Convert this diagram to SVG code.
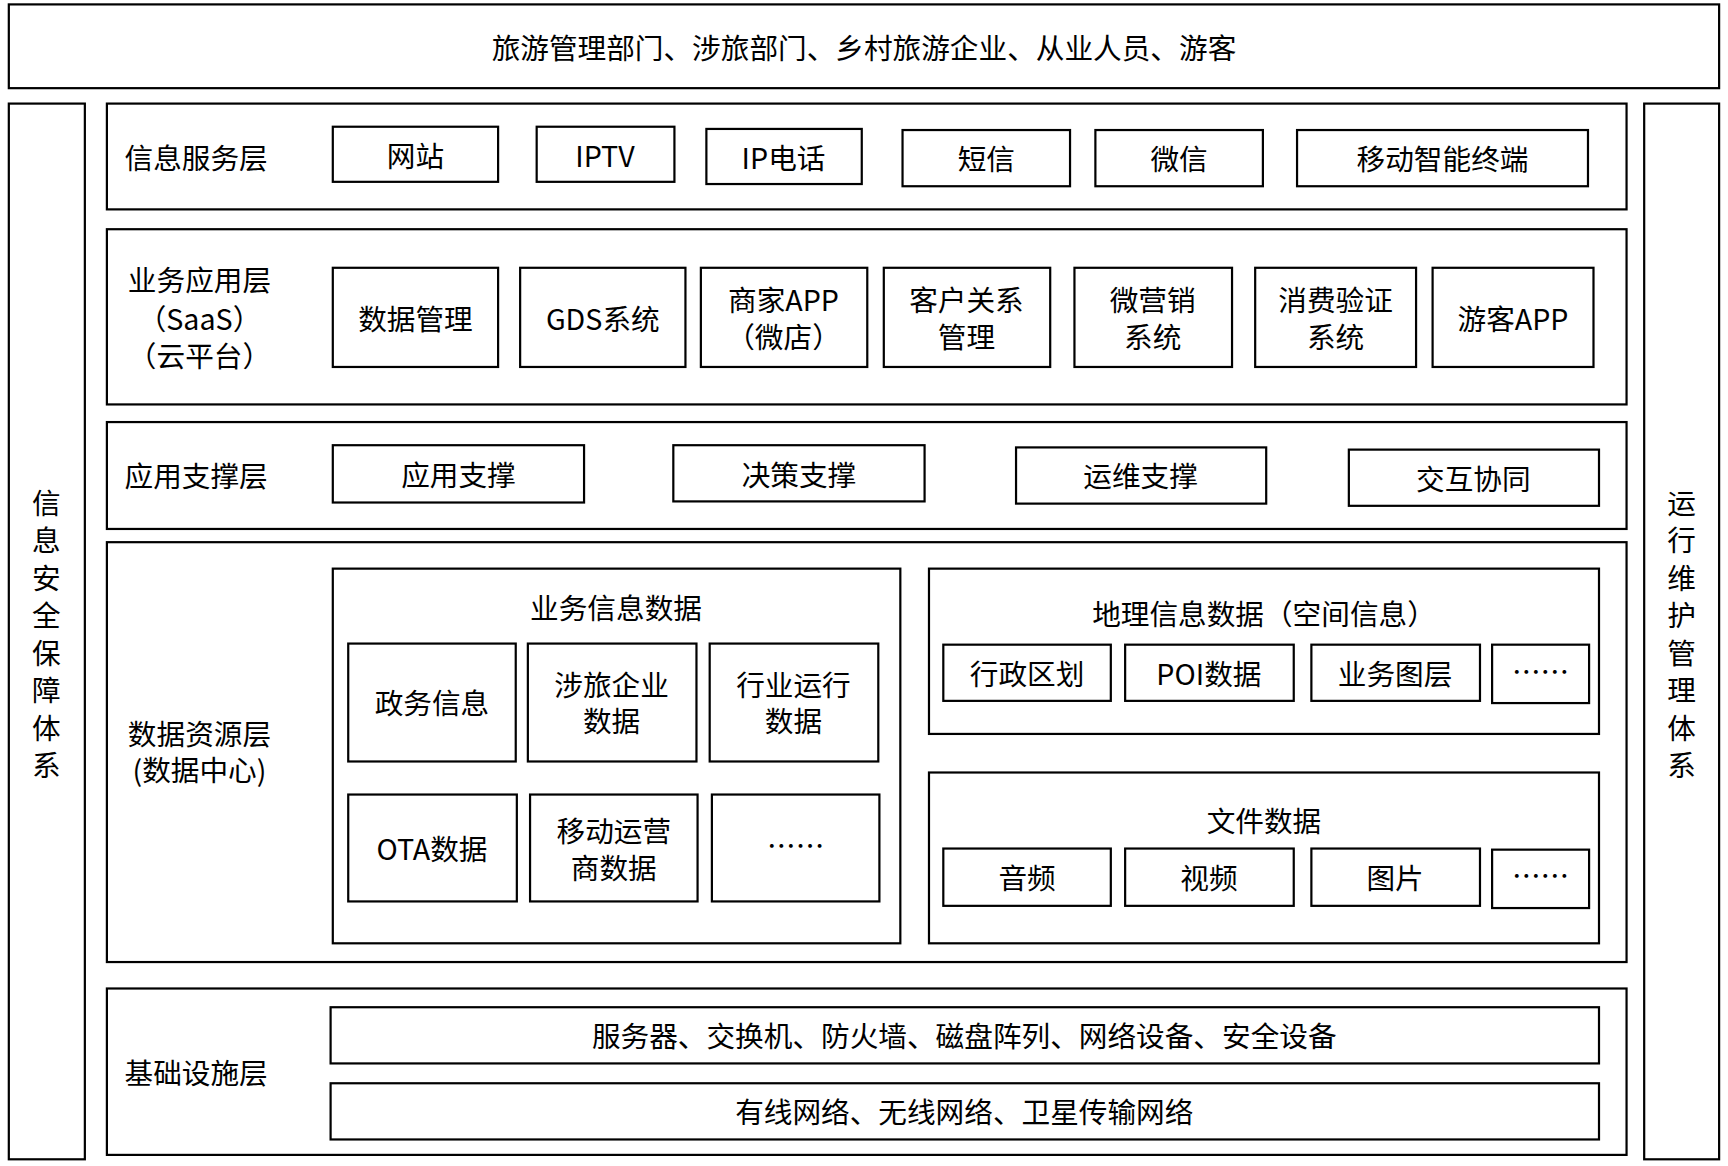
<svg xmlns="http://www.w3.org/2000/svg" width="1728" height="1166" viewBox="0 0 1728 1166">
<style>
rect{fill:#fff;stroke:#000;stroke-width:2}
text{font-family:"Noto Sans CJK SC","Liberation Sans",sans-serif;font-size:26px;fill:#000;text-anchor:middle;dominant-baseline:central}
.l{text-anchor:start}
</style>
<rect x="0" y="0" width="1728" height="1166" style="stroke:none"/>
<g transform="scale(1.102)">
<g id="top"><rect x="8" y="4" width="1552" height="76"/><text x="784" y="42">旅游管理部门、涉旅部门、乡村旅游企业、从业人员、游客</text></g>
<g id="left"><rect x="8" y="94" width="69" height="958"/>
<text x="42" y="455">信</text><text x="42" y="489">息</text><text x="42" y="523">安</text><text x="42" y="557">全</text><text x="42" y="591">保</text><text x="42" y="625">障</text><text x="42" y="659">体</text><text x="42" y="693">系</text></g>
<g id="right"><rect x="1492" y="94" width="68" height="958"/>
<text x="1526" y="455">运</text><text x="1526" y="489">行</text><text x="1526" y="523">维</text><text x="1526" y="557">护</text><text x="1526" y="591">管</text><text x="1526" y="625">理</text><text x="1526" y="659">体</text><text x="1526" y="693">系</text></g>
<g id="layer1"><rect x="97" y="94" width="1379" height="96"/><text class="l" x="113" y="142">信息服务层</text>
<rect x="302" y="115" width="150" height="50"/><text x="377" y="140">网站</text>
<rect x="487" y="115" width="125" height="50"/><text x="549" y="140">IPTV</text>
<rect x="641" y="117" width="141" height="50"/><text x="711" y="142">IP电话</text>
<rect x="819" y="118" width="152" height="51"/><text x="895" y="143">短信</text>
<rect x="994" y="118" width="152" height="51"/><text x="1070" y="143">微信</text>
<rect x="1177" y="118" width="264" height="51"/><text x="1309" y="143">移动智能终端</text></g>
<g id="layer2"><rect x="97" y="208" width="1379" height="159"/>
<text x="181" y="253">业务应用层</text><text x="181" y="288">（SaaS）</text><text x="181" y="322">（云平台）</text>
<rect x="302" y="243" width="150" height="90"/><text x="377" y="288">数据管理</text>
<rect x="472" y="243" width="150" height="90"/><text x="547" y="288">GDS系统</text>
<rect x="636" y="243" width="151" height="90"/><text x="711" y="271">商家APP</text><text x="711" y="304">（微店）</text>
<rect x="802" y="243" width="151" height="90"/><text x="877" y="271">客户关系</text><text x="877" y="304">管理</text>
<rect x="975" y="243" width="143" height="90"/><text x="1046" y="271">微营销</text><text x="1046" y="304">系统</text>
<rect x="1139" y="243" width="146" height="90"/><text x="1212" y="271">消费验证</text><text x="1212" y="304">系统</text>
<rect x="1300" y="243" width="146" height="90"/><text x="1373" y="288">游客APP</text></g>
<g id="layer3"><rect x="97" y="383" width="1379" height="97"/><text class="l" x="113" y="431">应用支撑层</text>
<rect x="302" y="404" width="228" height="52"/><text x="416" y="430">应用支撑</text>
<rect x="611" y="404" width="228" height="51"/><text x="725" y="430">决策支撑</text>
<rect x="922" y="406" width="227" height="51"/><text x="1035" y="431">运维支撑</text>
<rect x="1224" y="408" width="227" height="51"/><text x="1337" y="433">交互协同</text></g>
<g id="layer4"><rect x="97" y="492" width="1379" height="381"/>
<text x="181" y="665">数据资源层</text><text x="181" y="697">(数据中心)</text>
<rect x="302" y="516" width="515" height="340"/><text x="559" y="550">业务信息数据</text>
<rect x="316" y="584" width="152" height="107"/><text x="392" y="637">政务信息</text>
<rect x="479" y="584" width="153" height="107"/><text x="555" y="620">涉旅企业</text><text x="555" y="653">数据</text>
<rect x="644" y="584" width="153" height="107"/><text x="720" y="620">行业运行</text><text x="720" y="653">数据</text>
<rect x="316" y="721" width="153" height="97"/><text x="392" y="769">OTA数据</text>
<rect x="481" y="721" width="152" height="97"/><text x="557" y="753">移动运营</text><text x="557" y="786">商数据</text>
<rect x="646" y="721" width="152" height="97"/><text x="722" y="766">……</text>
<rect x="843" y="516" width="608" height="150"/><text x="1147" y="556">地理信息数据（空间信息）</text>
<rect x="856" y="585" width="152" height="51"/><text x="932" y="610">行政区划</text>
<rect x="1021" y="585" width="153" height="51"/><text x="1097" y="610">POI数据</text>
<rect x="1190" y="585" width="153" height="51"/><text x="1266" y="610">业务图层</text>
<rect x="1354" y="585" width="88" height="53"/><text x="1398" y="608">……</text>
<rect x="843" y="701" width="608" height="155"/><text x="1147" y="744">文件数据</text>
<rect x="856" y="770" width="152" height="52"/><text x="932" y="795">音频</text>
<rect x="1021" y="770" width="153" height="52"/><text x="1097" y="795">视频</text>
<rect x="1190" y="770" width="153" height="52"/><text x="1266" y="795">图片</text>
<rect x="1354" y="771" width="88" height="53"/><text x="1398" y="794">……</text></g>
<g id="layer5"><rect x="97" y="897" width="1379" height="151"/><text class="l" x="113" y="972">基础设施层</text>
<rect x="300" y="914" width="1151" height="51"/><text x="875" y="939">服务器、交换机、防火墙、磁盘阵列、网络设备、安全设备</text>
<rect x="300" y="983" width="1151" height="51"/><text x="875" y="1008">有线网络、无线网络、卫星传输网络</text></g>
<g id="connectors"/>
</g>
</svg>
